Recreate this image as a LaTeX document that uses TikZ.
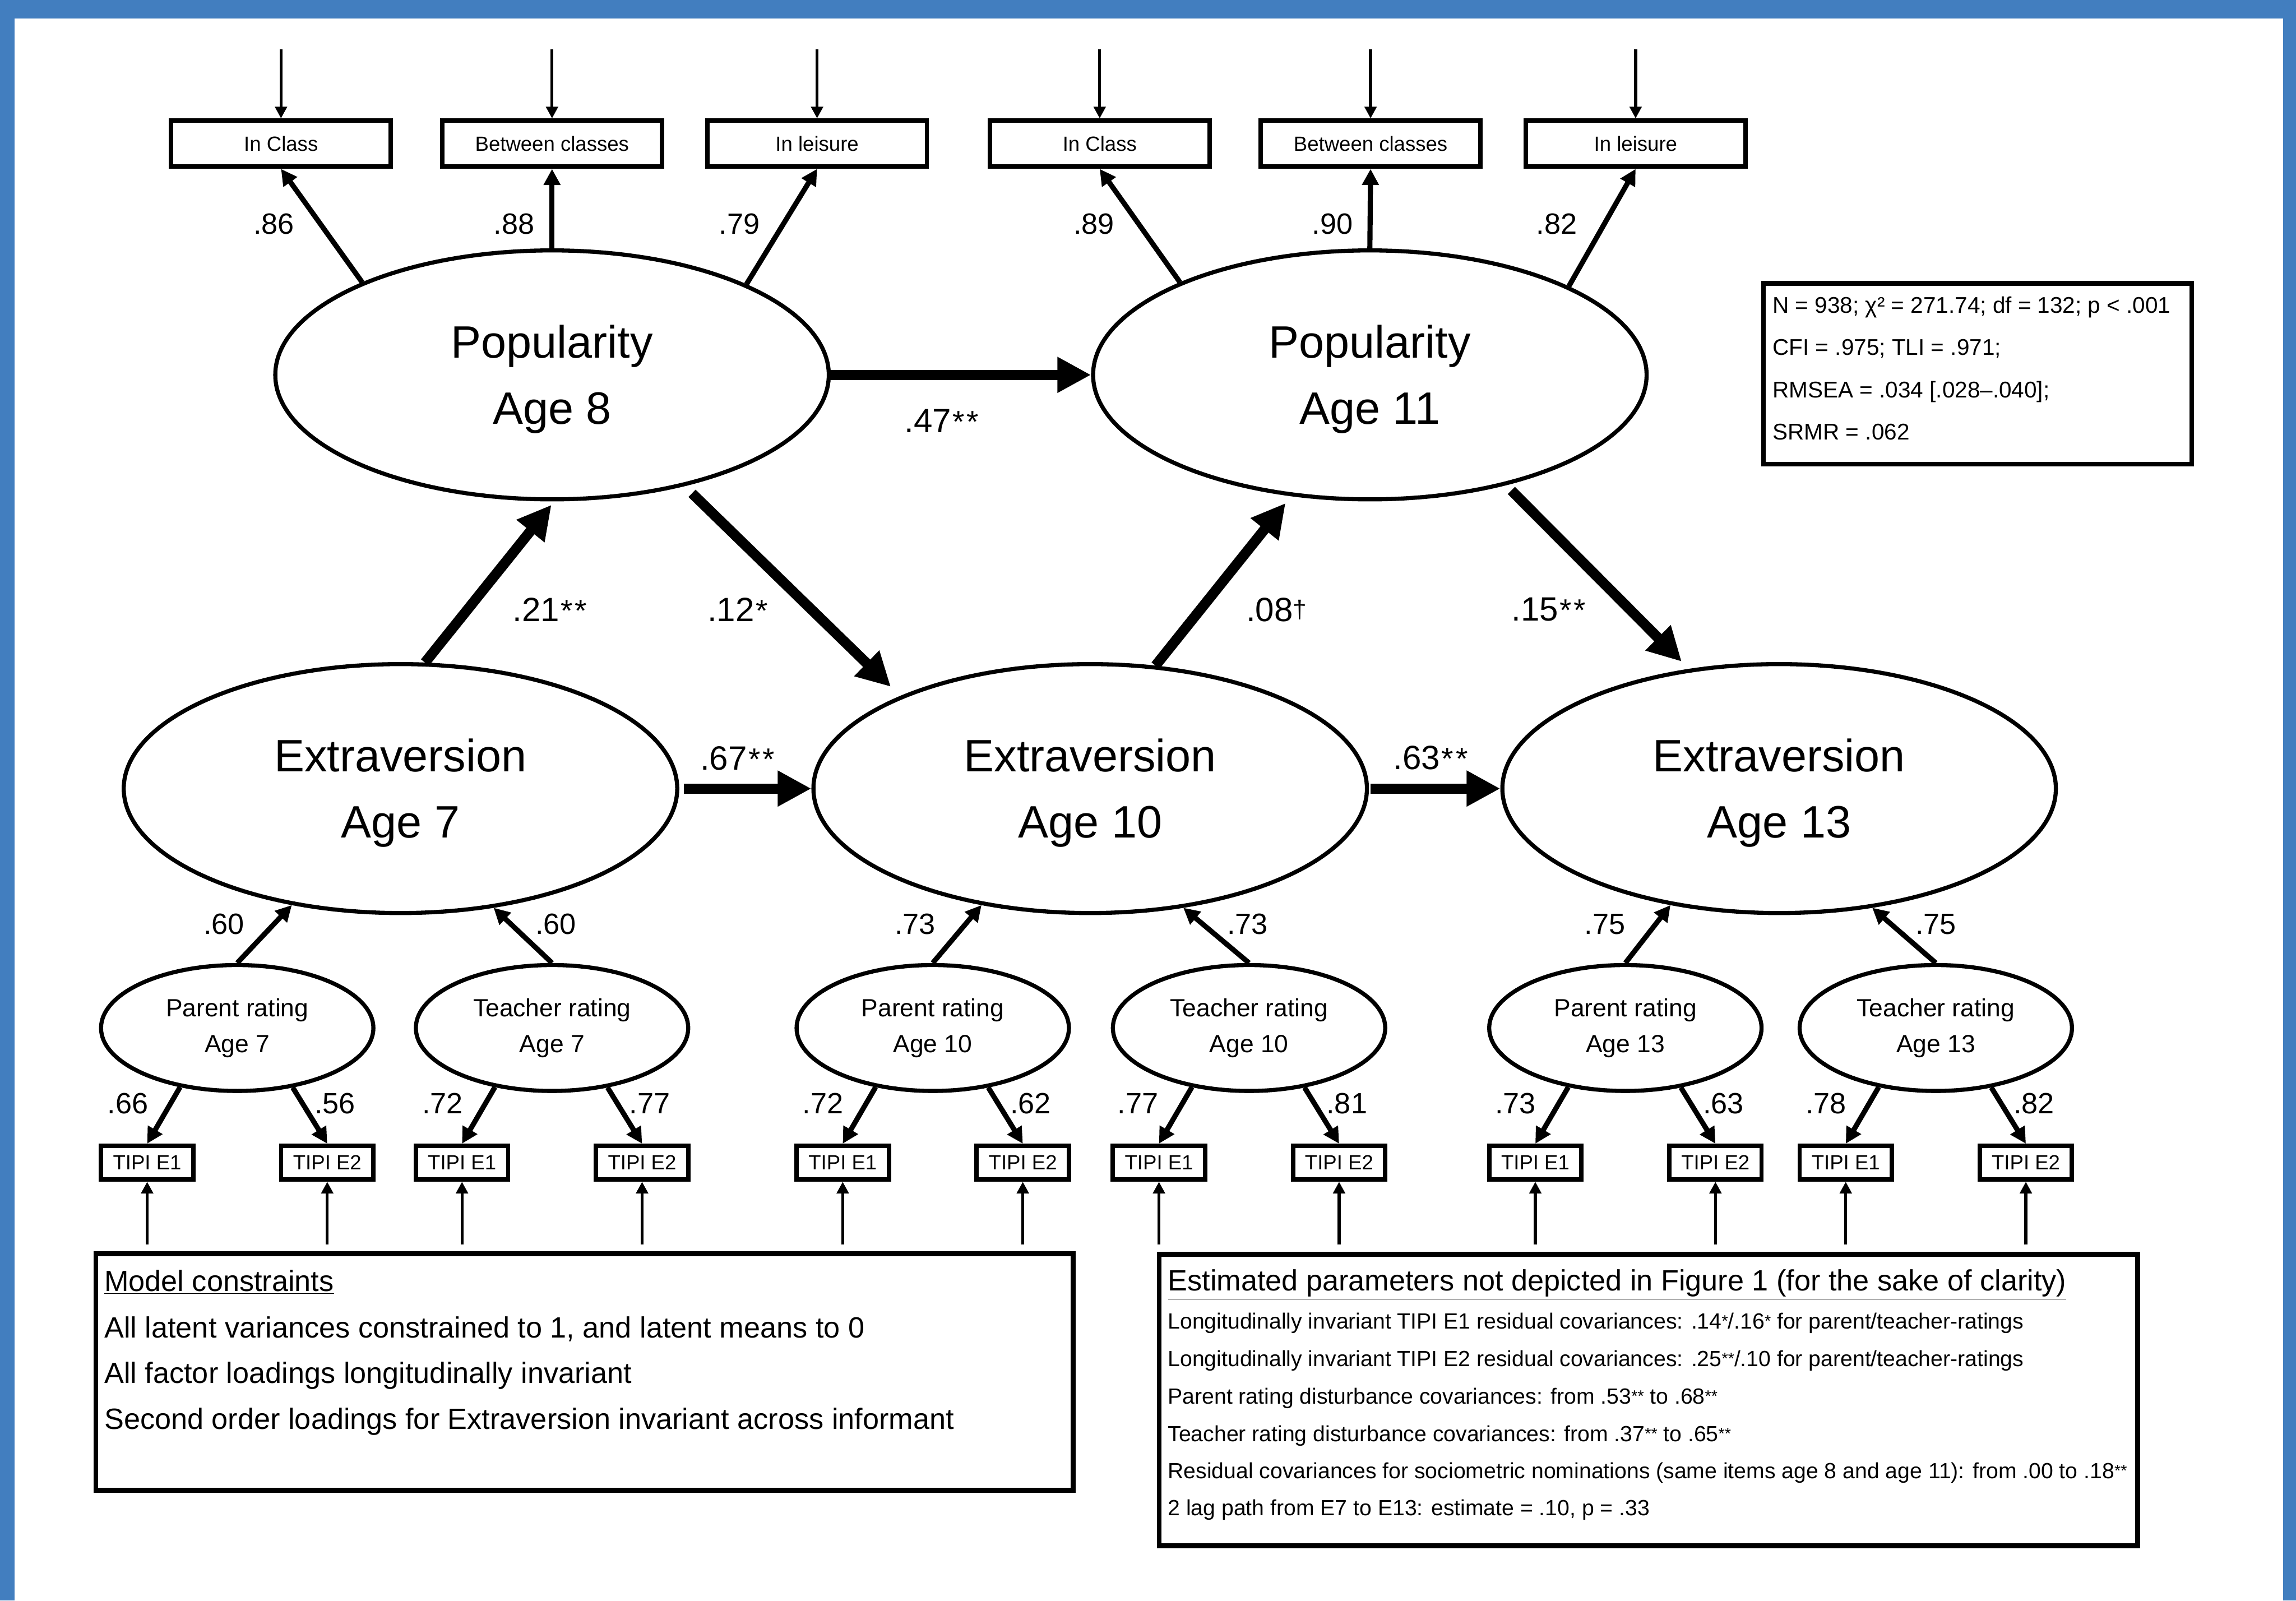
\documentclass[tikz,border=0pt]{standalone}
\usepackage{fontspec}
\setmainfont{Liberation Sans}
\usetikzlibrary{shapes.geometric,arrows.meta}
\definecolor{frameblue}{RGB}{66,126,191}
\newcommand\fs[2]{\fontsize{#1}{#2}\selectfont}
\newcommand\sgone{{\fs{21}{21}\kern1pt*}}
\newcommand\sgtwo{{\fs{21}{21}\kern1pt*\kern1.5pt*}}
\newcommand\sgdag{\raisebox{2pt}{\fs{17}{17}†}}
\newcommand\sgs[1]{\raisebox{1.5pt}{\fs{11}{11}#1}}
\begin{document}
\begin{tikzpicture}[x=1pt,y=-1pt,
  latent/.style={ellipse,draw,line width=2.8pt,minimum width=378pt,minimum height=170pt,inner sep=0pt},
  ltxt/.style={inner sep=0pt,align=center,font=\fs{31}{45}},
  rating/.style={ellipse,draw,line width=2.8pt,minimum width=186pt,minimum height=86pt,inner sep=0pt},
  rtxt/.style={inner sep=0pt,align=center,font=\fs{17}{24.5}},
  obs/.style={rectangle,draw,line width=3pt,minimum width=150pt,minimum height=31.5pt,inner sep=0pt,font=\fs{14}{16}},
  tipi/.style={rectangle,draw,line width=3pt,minimum width=63pt,minimum height=23pt,inner sep=0pt,font=\fs{14}{16}},
  lbl/.style={inner sep=0pt,font=\fs{20}{22}},
  plbl/.style={inner sep=0pt,font=\fs{23}{25},anchor=base},
  thickp/.style={line width=7pt,-{Triangle[length=23pt,width=23pt]}},
  load/.style={line width=3.5pt,-{Triangle[length=11pt,width=11pt]}},
  err/.style={line width=2pt,-{Triangle[length=8pt,width=8pt]}},
  txtbox/.style={rectangle,draw,line width=3.3pt,inner sep=0pt,outer sep=0pt},
  boxtxt/.style={inner sep=0pt,anchor=base west},
]
\useasboundingbox (0,0) rectangle (1568,1093);
\fill[frameblue] (0,0) rectangle (1568,1093);
\fill[white] (10,12.7) rectangle (1559,1093);

% latent factors
\node[latent] (P8) at (377,256) {};
\node[latent] (P11) at (935.5,256) {};
\node[latent] (E7) at (273.5,538.5) {};
\node[latent] (E10) at (744.5,538.5) {};
\node[latent] (E13) at (1215,538.5) {};
\node[ltxt] (P8t) at (377,259) {Popularity\\Age 8};
\node[ltxt] (P11t) at (935.5,259) {Popularity\\Age 11};
\node[ltxt] (E7t) at (273.5,541.5) {Extraversion\\Age 7};
\node[ltxt] (E10t) at (744.5,541.5) {Extraversion\\Age 10};
\node[ltxt] (E13t) at (1215,541.5) {Extraversion\\Age 13};

% top indicators
\node[obs] (ic8) at (191.9,98.1) {In Class};
\node[obs] (bc8) at (377,98.1) {Between classes};
\node[obs] (le8) at (558,98.1) {In leisure};
\node[obs] (ic11) at (751,98.1) {In Class};
\node[obs] (bc11) at (936,98.1) {Between classes};
\node[obs] (le11) at (1117,98.1) {In leisure};

% rating factors
\foreach \r/\c/\w/\a in {1/162/Parent/7,2/377/Teacher/7,3/637/Parent/10,4/853/Teacher/10,5/1110/Parent/13,6/1322/Teacher/13}{
  \node[rating] (R\r) at (\c,702) {};
  \node[rtxt] (R\r t) at (\c,702) {\w{} rating\\Age \a};
}

% TIPI items
\foreach \r/\c in {1/162,2/377,3/637,4/853,5/1110,6/1322}{
  \node[tipi] (T\r a) at (\c-61.5,794) {TIPI E1};
  \node[tipi] (T\r b) at (\c+61.5,794) {TIPI E2};
  \coordinate (u\r a) at (\c-61.5,850);
  \coordinate (u\r b) at (\c+61.5,850);
  \draw[err] (u\r a) -- (T\r a);
  \draw[err] (u\r b) -- (T\r b);
  \draw[load] (R\r.226) -- (T\r a.north);
  \draw[load] (R\r.313) -- (T\r b.north);
}

% error arrows on top indicators
\foreach \n in {ic8,bc8,le8,ic11,bc11,le11}{
  \coordinate (d\n) at ([yshift=47pt]\n.north);
  \draw[err] (d\n) -- (\n);
}

% loadings popularity
\draw[load] (P8.154.7) -- (ic8.south);
\draw[load] (P8.north) -- (bc8.south);
\draw[load] (P8.25) -- (le8.south);
\draw[load] (P11.154.6) -- (ic11.south);
\draw[load] (P11.north) -- (bc11.south);
\draw[load] (P11.24.9) -- (le11.south);

% second order loadings
\draw[load] (R1.north) -- (E7.227.5);
\draw[load] (R2.north) -- (E7.308);
\draw[load] (R3.north) -- (E10.227.5);
\draw[load] (R4.north) -- (E10.308);
\draw[load] (R5.north) -- (E13.227.5);
\draw[load] (R6.north) -- (E13.308);

% structural paths
\draw[thickp] (P8.east) -- (P11.west);
\draw[thickp,shorten <=3pt] (E7.east) -- (E10.west);
\draw[thickp,shorten <=1pt] (E10.east) -- (E13.west);
\draw[thickp,shorten >=3pt] (E7.79.8) -- (P8.271.2);
\draw[thickp,shorten <=7pt,shorten >=9pt] (P8.-40.8) -- (E10.154.6);
\draw[thickp,shorten >=6pt] (E10.62) -- (P11.237.5);
\draw[thickp,shorten <=5pt,shorten >=7pt] (P11.-39.7) -- (E13.127.9);

% loading labels
\node[lbl] (l1) at (187,153) {.86};
\node[lbl] (l2) at (351,153) {.88};
\node[lbl] (l3) at (505,153) {.79};
\node[lbl] (l4) at (747,153) {.89};
\node[lbl] (l5) at (910,153) {.90};
\node[lbl] (l6) at (1063,153) {.82};

\node[lbl] (s1) at (153,631) {.60};
\node[lbl] (s2) at (379.6,631) {.60};
\node[lbl] (s3) at (625,631) {.73};
\node[lbl] (s4) at (852,631) {.73};
\node[lbl] (s5) at (1096,631) {.75};
\node[lbl] (s6) at (1322,631) {.75};

\node[lbl] (f1) at (87.2,753.5) {.66};
\node[lbl] (f2) at (228.8,753.5) {.56};
\node[lbl] (f3) at (302.2,753.5) {.72};
\node[lbl] (f4) at (443.7,753.5) {.77};
\node[lbl] (f5) at (561.9,753.5) {.72};
\node[lbl] (f6) at (703.8,753.5) {.62};
\node[lbl] (f7) at (777.2,753.5) {.77};
\node[lbl] (f8) at (919.8,753.5) {.81};
\node[lbl] (f9) at (1035,753.5) {.73};
\node[lbl] (f10) at (1177,753.5) {.63};
\node[lbl] (f11) at (1247,753.5) {.78};
\node[lbl] (f12) at (1389,753.5) {.82};

% path labels
\node[plbl] (p1) at (643,295.3) {.47\sgtwo};
\node[plbl] (p2) at (375.5,424.3) {.21\sgtwo};
\node[plbl] (p3) at (503.7,424.3) {.12\sgone};
\node[plbl] (p4) at (871.8,424.2) {.08\sgdag};
\node[plbl] (p5) at (1057.6,424) {.15\sgtwo};
\node[plbl] (p6) at (503.6,525.7) {.67\sgtwo};
\node[plbl] (p7) at (977,525.5) {.63\sgtwo};

% fit box
\node[txtbox,minimum width=292.5pt,minimum height=123.5pt] (fit) at (1350.5,255.25) {};
\node[boxtxt,font=\fs{15.5}{17}] (fit1) at (1210.4,213.8) {N = 938; χ² = 271.74; df = 132; p < .001};
\node[boxtxt,font=\fs{15.5}{17}] (fit2) at (1210.4,242.4) {CFI = .975; TLI = .971;};
\node[boxtxt,font=\fs{15.5}{17}] (fit3) at (1210.4,271.7) {RMSEA = .034 [.028–.040];};
\node[boxtxt,font=\fs{15.5}{17}] (fit4) at (1210.4,300.3) {SRMR = .062};

% model constraints box
\node[txtbox,minimum width=667.4pt,minimum height=161.7pt] (mc) at (399.1,936.9) {};
\node[boxtxt,font=\fs{20}{22}] (mc0) at (71.1,881.9) {\underline{Model constraints}};
\node[boxtxt,font=\fs{20}{22}] (mc1) at (71.1,913.4) {All latent variances constrained to 1, and latent means to 0};
\node[boxtxt,font=\fs{20}{22}] (mc2) at (71.1,944.6) {All factor loadings longitudinally invariant};
\node[boxtxt,font=\fs{20}{22}] (mc3) at (71.1,975.8) {Second order loadings for Extraversion invariant across informant};

% estimated parameters box
\node[txtbox,minimum width=668.2pt,minimum height=199pt] (ep) at (1125.7,956) {};
\node[boxtxt,font=\fs{20}{22}] (ep0) at (797.4,881.6) {\underline{Estimated parameters not depicted in Figure 1 (for the sake of clarity)}};
\node[boxtxt,font=\fs{15}{17}] (ep1) at (797.4,907.6) {Longitudinally invariant TIPI E1 residual covariances: .14\sgs{*}/.16\sgs{*} for parent/teacher-ratings};
\node[boxtxt,font=\fs{15}{17}] (ep2) at (797.4,933) {Longitudinally invariant TIPI E2 residual covariances: .25\sgs{**}/.10 for parent/teacher-ratings};
\node[boxtxt,font=\fs{15}{17}] (ep3) at (797.4,958.8) {Parent rating disturbance covariances: from .53\sgs{**} to .68\sgs{**}};
\node[boxtxt,font=\fs{15}{17}] (ep4) at (797.4,984.4) {Teacher rating disturbance covariances: from .37\sgs{**} to .65\sgs{**}};
\node[boxtxt,font=\fs{15}{17}] (ep5) at (797.4,1009.7) {Residual covariances for sociometric nominations (same items age 8 and age 11): from .00 to .18\sgs{**}};
\node[boxtxt,font=\fs{15}{17}] (ep6) at (797.4,1035) {2 lag path from E7 to E13: estimate = .10, p = .33};
\end{tikzpicture}
\end{document}
